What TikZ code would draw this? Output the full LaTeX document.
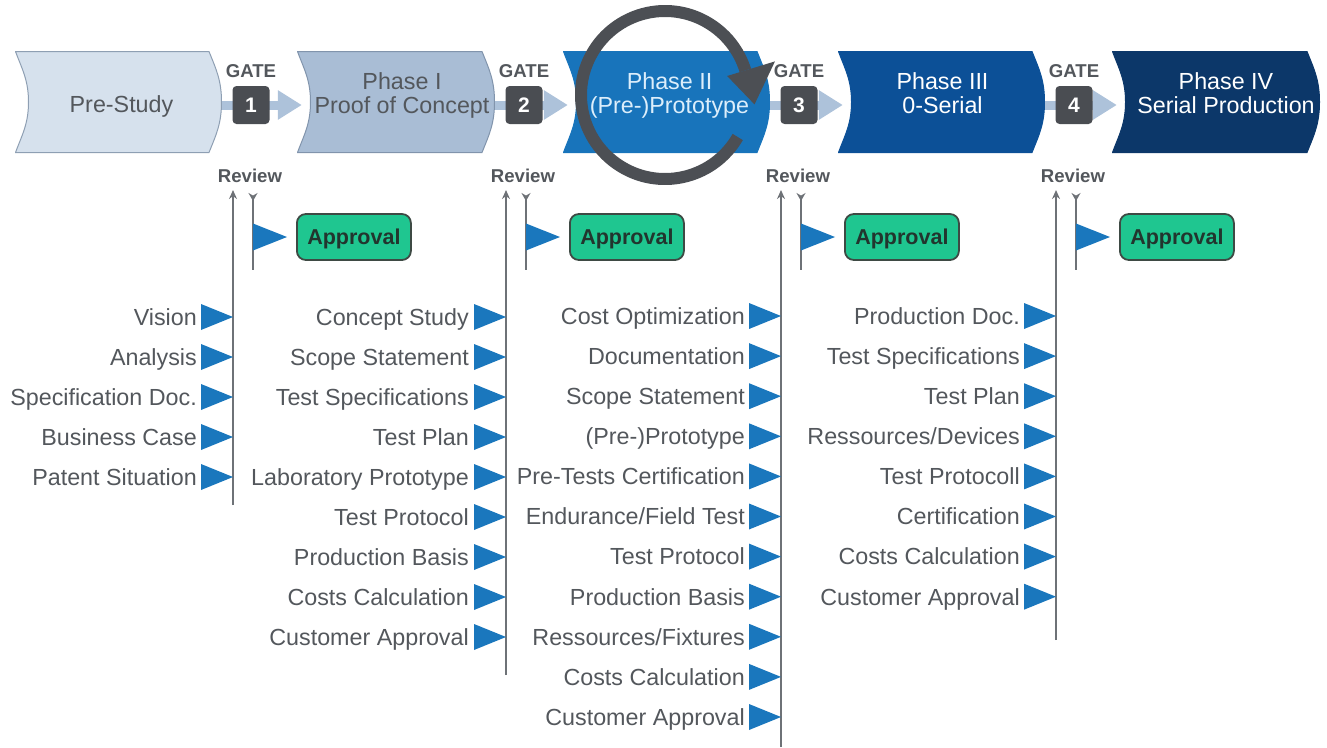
\documentclass[tikz,border=0pt]{standalone}
\usepackage{fontspec}
\setmainfont{Liberation Sans}
\usetikzlibrary{positioning,calc,arrows.meta}

\definecolor{prestudy}{HTML}{D6E1ED}
\definecolor{prestudyline}{HTML}{8E9FB3}
\definecolor{phaseone}{HTML}{A9BDD5}
\definecolor{phaseoneline}{HTML}{8194AC}
\definecolor{phasetwo}{HTML}{1874BB}
\definecolor{phasethree}{HTML}{0C5097}
\definecolor{phasefour}{HTML}{0C3769}
\definecolor{textgray}{HTML}{53575C}
\definecolor{lighttext}{HTML}{DCEEFB}
\definecolor{gatedark}{HTML}{4A4D52}
\definecolor{arrowblue}{HTML}{ADC2DA}
\definecolor{flagblue}{HTML}{1A77BD}
\definecolor{approvalgreen}{HTML}{1FC690}
\definecolor{approvalline}{HTML}{3E4A44}
\definecolor{approvaltext}{HTML}{22352E}
\definecolor{linegray}{HTML}{6E7277}
\definecolor{loopgray}{HTML}{4C4F54}

\tikzset{
  phase/.style 2 args={minimum width=207pt, minimum height=102pt, inner sep=0pt,
    path picture={\path[fill=#1, draw=#2, line width=1pt]
      let \p1=(path picture bounding box.north west),
          \p2=(path picture bounding box.south east),
          \p3=(path picture bounding box.east) in
      (\x1+0.5pt,\y1-0.5pt) -- (\x2-13pt,\y1-0.5pt)
      .. controls (\x2-6pt,\y1-18pt) and (\x2-0.5pt,\y3+22pt) .. (\x2-0.5pt,\y3)
      .. controls (\x2-0.5pt,\y3-22pt) and (\x2-6pt,\y2+18pt) .. (\x2-13pt,\y2+0.5pt)
      -- (\x1+0.5pt,\y2+0.5pt)
      .. controls (\x1+7pt,\y2+18pt) and (\x1+13.5pt,\y3-22pt) .. (\x1+13.5pt,\y3)
      .. controls (\x1+13.5pt,\y3+22pt) and (\x1+7pt,\y1-18pt) .. (\x1+0.5pt,\y1-0.5pt)
      -- cycle;}},
  phasetitle/.style={inner sep=0pt, align=center, font=\fontsize{23.3}{23.5}\selectfont},
  gatebox/.style={fill=gatedark, rounded corners=4pt, minimum width=37pt, minimum height=38pt,
    inner sep=0pt, text=white, font=\bfseries\fontsize{21}{21}\selectfont},
  gatelabel/.style={inner sep=0pt, text=textgray, font=\bfseries\fontsize{18.6}{19}\selectfont},
  gatearrow/.style={draw=arrowblue, line width=9pt, -{Triangle[length=24pt,width=28pt]}, shorten >=-5pt},
  review/.style={inner sep=0pt, text=textgray, font=\bfseries\fontsize{18.6}{19}\selectfont},
  revline/.style={draw=linegray, line width=2pt},
  approval/.style={draw=approvalline, line width=1.8pt, fill=approvalgreen, rounded corners=9pt,
    minimum width=114pt, minimum height=46pt, inner sep=0pt, text height=15.5pt, text depth=0pt,
    text=approvaltext, font=\bfseries\fontsize{21.5}{22}\selectfont},
  item/.style={anchor=base east, inner sep=0pt, text=textgray, font=\fontsize{23.3}{24}\selectfont},
  tri/.pic={\fill[flagblue] (-32,-13) -- (0,0) -- (-32,13) -- cycle;},
  flag/.pic={\fill[flagblue] (0,-13.5) -- (34,0) -- (0,13.5) -- cycle;}
}

\begin{document}
\begin{tikzpicture}[x=1pt, y=-1pt]
  \useasboundingbox (0,0) rectangle (1327,747);

  % phases
  \node[phase={prestudy}{prestudyline}] (ps) at (118.5,102) {};
  \node[phase={phaseone}{phaseoneline}, minimum width=198pt] (p1) at (396,102) {};
  \node[phase={phasetwo}{phasetwo}] (p2) at (666.5,102) {};
  \node[phase={phasethree}{phasethree}] (p3) at (941.5,102) {};
  \node[phase={phasefour}{phasefour}, minimum width=208pt] (p4) at (1216,102) {};

  \node[phasetitle, text=textgray] (ps-t) at ([xshift=3pt,yshift=-4pt]ps.center) {Pre-Study};
  \node[phasetitle, text=textgray] (p1-t) at ([xshift=6pt,yshift=6.5pt]p1.center) {Phase I\\Proof of Concept};
  \node[phasetitle, text=lighttext] (p2-t) at ([xshift=3pt,yshift=6.5pt]p2.center) {Phase II\\(Pre-)Prototype};
  \node[phasetitle, text=white] (p3-t) at ([xshift=1pt,yshift=9pt]p3.center) {Phase III\\0-Serial};
  \node[phasetitle, text=white] (p4-t) at ([xshift=10pt,yshift=9pt]p4.center) {Phase IV\\Serial Production};

  % gates, reviews and approvals
  \foreach \n/\ux/\lb/\lft/\rgt in {1/233/505/ps/p1, 2/506/675/p1/p2, 3/781/747/p2/p3, 4/1056/640/p3/p4}{
    \draw[gatearrow] ([yshift=-3pt]\lft.east) -- ([yshift=-3pt]\rgt.west);
    \node[gatebox] (g\n) at (\ux+18,105) {\n};
    \node[gatelabel, above=8pt of g\n] (gl\n) {GATE};
    \node[review] (rv\n) at (\ux+17,176) {Review};
    \coordinate (rb\n) at (\ux,\lb);
    \draw[revline, -{Stealth[length=9pt,width=8pt]}, shorten >=7pt] (rb\n) -- (rb\n |- rv\n.south);
    \coordinate (pt\n) at (\ux+20,193);
    \coordinate (pb\n) at (\ux+20,270);
    \draw[revline, {Stealth[reversed,length=8pt,width=9pt]}-] (pt\n) -- (pb\n);
    \pic at (\ux+20,237) {flag};
    \node[approval, anchor=west] (ap\n) at (\ux+63,237) {Approval};
  }

  % deliverables
  \foreach \txt [count=\i] in {Vision, Analysis, Specification Doc., Business Case, Patent Situation}{
    \node[item] (ca\i) at (197,{325+40*(\i-1)}) {\txt};
    \pic at (233,{317+40*(\i-1)}) {tri};
  }
  \foreach \txt [count=\i] in {Concept Study, Scope Statement, Test Specifications, Test Plan,
      Laboratory Prototype, Test Protocol, Production Basis, Costs Calculation, Customer Approval}{
    \node[item] (cb\i) at (469,{325+40*(\i-1)}) {\txt};
    \pic at (506,{317+40*(\i-1)}) {tri};
  }
  \foreach \txt [count=\i] in {Cost Optimization, Documentation, Scope Statement, (Pre-)Prototype,
      Pre-Tests Certification, Endurance/Field Test, Test Protocol, Production Basis,
      Ressources/Fixtures, Costs Calculation, Customer Approval}{
    \node[item] (cc\i) at (745,{324.3+40.1*(\i-1)}) {\txt};
    \pic at (781,{316+40.1*(\i-1)}) {tri};
  }
  \foreach \txt [count=\i] in {Production Doc., Test Specifications, Test Plan, Ressources/Devices,
      Test Protocoll, Certification, Costs Calculation, Customer Approval}{
    \node[item] (cd\i) at (1020,{324.3+40.1*(\i-1)}) {\txt};
    \pic at (1056,{316+40.1*(\i-1)}) {tri};
  }

  % iteration loop on phase II
  \begin{scope}[shift={(665,95)}, y=1pt]
    \draw[loopgray, line width=12pt] (-30:84) arc[start angle=-30, end angle=-343, radius=84];
    \fill[loopgray] (17:65) -- (17:115) -- (-6:90) -- cycle;
  \end{scope}
\end{tikzpicture}
\end{document}
